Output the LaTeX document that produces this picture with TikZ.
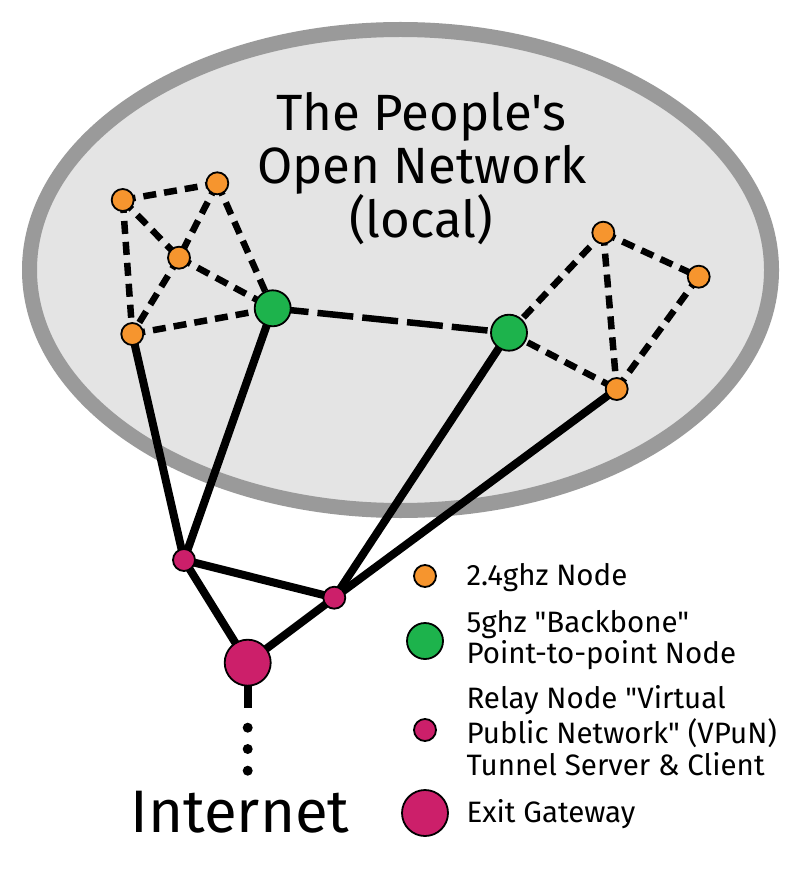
\documentclass[tikz,border=0pt]{standalone}
\usepackage{fontspec}
\setmainfont{Fira Sans}[Ligatures=TeXOff]
\definecolor{ellfill}{HTML}{E4E4E4}
\definecolor{ellline}{HTML}{9A9A9A}
\definecolor{onode}{HTML}{F6952E}
\definecolor{gnode}{HTML}{1DB34C}
\definecolor{mnode}{HTML}{CC1F6A}
\begin{document}
\begin{tikzpicture}[x=1pt,y=-1pt,
  orangenode/.style={circle,draw=black,line width=1.8pt,fill=onode,minimum size=22pt,inner sep=0pt},
  greennode/.style={circle,draw=black,line width=1.8pt,fill=gnode,minimum size=36pt,inner sep=0pt},
  relaynode/.style={circle,draw=black,line width=1.8pt,fill=mnode,minimum size=22pt,inner sep=0pt},
  exitnode/.style={circle,draw=black,line width=1.8pt,fill=mnode,minimum size=46pt,inner sep=0pt},
  wifi/.style={line width=6.5pt,dash pattern=on 13pt off 8pt},
  backbone/.style={line width=6.5pt,dash pattern=on 36pt off 9pt},
  wire/.style={line width=8pt},
  dotnode/.style={circle,fill=black,minimum size=10pt,inner sep=0pt},
  titletext/.style={anchor=base,font=\fontsize{51}{58}\selectfont},
  legtext/.style={anchor=base west,font=\fontsize{29.5}{35}\selectfont},
]
\useasboundingbox (0,0) rectangle (800,890);
\fill[white] (0,0) rectangle (800,890);
% ellipse
\draw[ellline,fill=ellfill,line width=15pt] (400.5,270) ellipse [x radius=371, y radius=240.5];

% node positions (names)
\coordinate (A) at (122.7,200);
\coordinate (B) at (217.3,183.3);
\coordinate (C) at (179,257.7);
\coordinate (D) at (132.3,334);
\coordinate (G1) at (272.7,308.3);
\coordinate (E) at (603.3,232.7);
\coordinate (F) at (698.7,276.7);
\coordinate (G) at (616.7,389);
\coordinate (G2) at (509,332.7);
\coordinate (M1) at (184,560);
\coordinate (M2) at (334.3,597.7);
\coordinate (X) at (247.7,662.7);

% edges
\draw[wifi] (A) -- (B);
\draw[wifi] (A) -- (C);
\draw[wifi] (A) -- (D);
\draw[wifi] (B) -- (C);
\draw[wifi] (C) -- (D);
\draw[wifi] (B) -- (G1);
\draw[wifi] (C) -- (G1);
\draw[wifi] (D) -- (G1);
\draw[backbone] (G1) -- (G2);
\draw[wifi] (G2) -- (E);
\draw[wifi] (G2) -- (G);
\draw[wifi] (E) -- (G);
\draw[wifi] (E) -- (F);
\draw[wifi] (F) -- (G);
\draw[wire] (D) -- (M1);
\draw[wire] (G1) -- (M1);
\draw[wire] (M1) -- (M2);
\draw[wire] (M1) -- (X);
\draw[wire] (M2) -- (X);
\draw[wire] (G2) -- (M2);
\draw[wire] (G) -- (M2);
\coordinate (XE) at (247.7,708);
\draw[wire] (X) -- (XE);
\node[dotnode] (d1) at (247.7,727.7) {};
\node[dotnode] (d2) at (247.7,749) {};
\node[dotnode] (d3) at (247.7,770.7) {};

% nodes on top
\node[orangenode] (nA) at (A) {};
\node[orangenode] (nB) at (B) {};
\node[orangenode] (nC) at (C) {};
\node[orangenode] (nD) at (D) {};
\node[orangenode] (nE) at (E) {};
\node[orangenode] (nF) at (F) {};
\node[orangenode] (nG) at (G) {};
\node[greennode] (nG1) at (G1) {};
\node[greennode] (nG2) at (G2) {};
\node[relaynode] (nM1) at (M1) {};
\node[relaynode] (nM2) at (M2) {};
\node[exitnode] (nX) at (X) {};

% title
\node[titletext] (t1) at (421,131) {The People's};
\node[titletext] (t2) at (422,184) {Open Network};
\node[titletext] (t3) at (421,238) {(local)};
\node[anchor=base,font=\fontsize{60}{66}\selectfont] (inet) at (240,832) {Internet};

% legend
\node[orangenode] (L1) at (425,576) {};
\node[greennode] (L2) at (425,641) {};
\node[relaynode] (L3) at (425,730) {};
\node[exitnode] (L4) at (425,813) {};
\node[legtext] (l1) at (463,585) {2.4ghz Node};
\node[legtext] (l2) at (463,632) {5ghz "Backbone"};
\node[legtext] (l3) at (463,663) {Point-to-point Node};
\node[legtext] (l4) at (463,708) {Relay Node "Virtual};
\node[legtext] (l5) at (463,743) {Public Network" (VPuN)};
\node[legtext] (l6) at (463,775) {Tunnel Server \& Client};
\node[legtext] (l7) at (463,822) {Exit Gateway};
\end{tikzpicture}
\end{document}
